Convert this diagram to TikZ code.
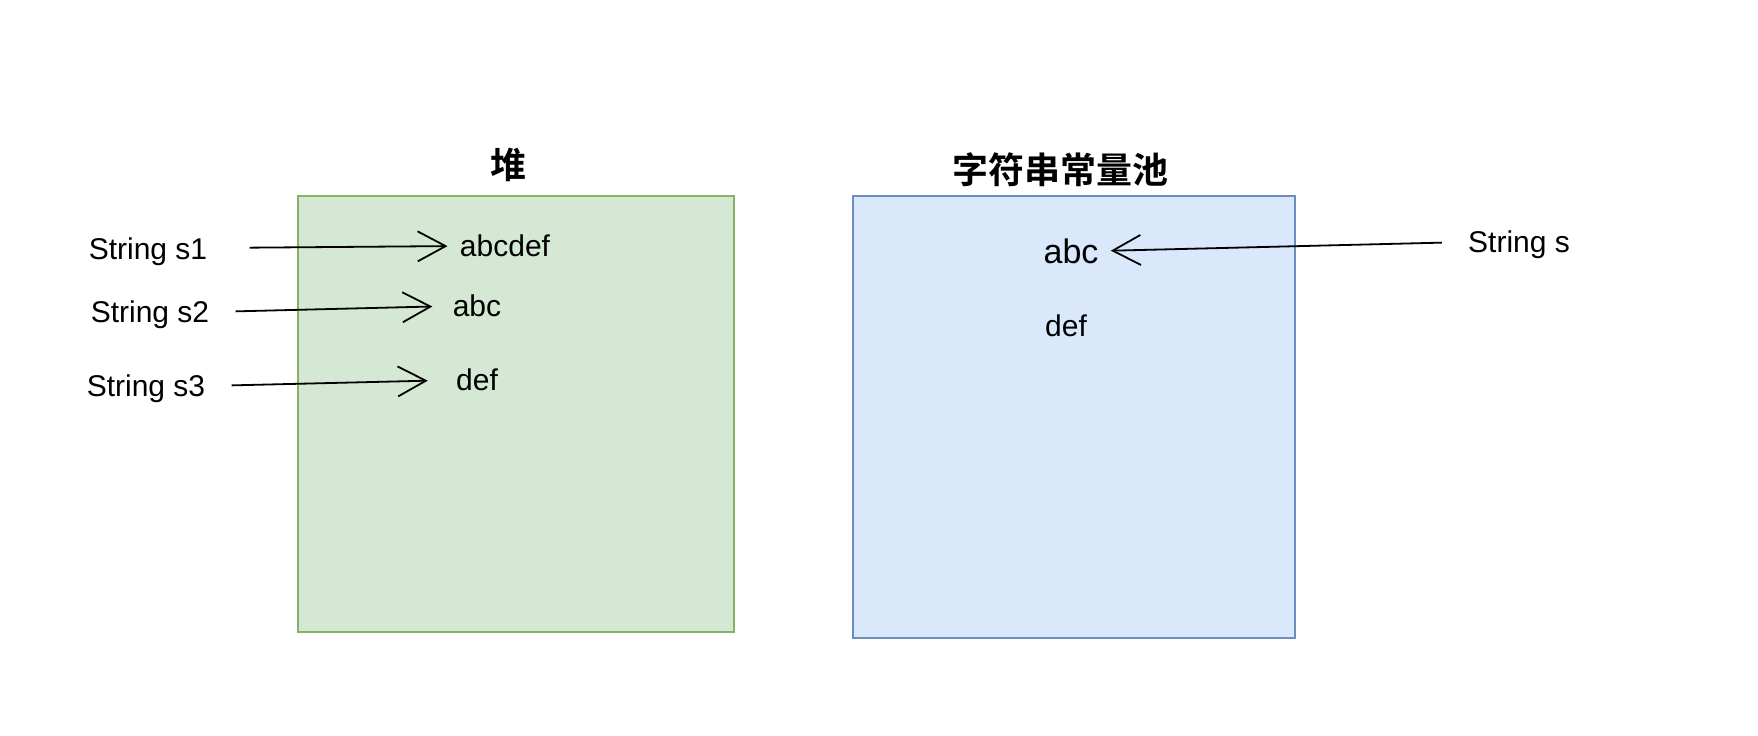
\documentclass[tikz,border=0pt]{standalone}
\usepackage{fontspec}
\setmainfont{Liberation Sans}
\newfontfamily\cjk{Noto Sans CJK SC}[BoldFont=Noto Sans CJK SC Bold]
\usepackage{xcolor}
\definecolor{heapgreen}{HTML}{82B366}
\definecolor{heapfill}{HTML}{D5E8D4}
\definecolor{poolblue}{HTML}{6C8EBF}
\definecolor{poolfill}{HTML}{DAE8FC}
\usetikzlibrary{arrows.meta,positioning}

\begin{document}
\begin{tikzpicture}[
        x=0.5pt, y=-0.5pt,
        heapbox/.style={rectangle, draw=heapgreen, fill=heapfill, line width=0.75pt, minimum width=218pt, minimum height=218pt},
        poolbox/.style={rectangle, draw=poolblue, fill=poolfill, line width=0.75pt, minimum width=221pt, minimum height=221pt},
        title/.style={font=\cjk\bfseries\fontsize{18}{20}\selectfont, inner sep=0pt},
        txt/.style={font=\fontsize{15}{18}\selectfont, inner sep=0pt},
        arrow/.style={-{Straight Barb[length=14pt, width=15pt, line width=0.9pt]}, line width=0.9pt}
    ]
        \useasboundingbox (0,0) rectangle (1758,735);

        \node[heapbox] (heap) at (516,414) {};
        \node[poolbox] (pool) at (1074,417) {};
        \node[title] (heaptitle) at (508,165) {堆};
        \node[title] (pooltitle) at (1060,170) {字符串常量池};

        \node[txt] (s1) at (148,252) {String s1};
        \node[txt] (s2) at (150,315) {String s2};
        \node[txt] (s3) at (146,389) {String s3};
        \node[txt] (abcdef) at (505,246) {abcdef};
        \node[txt] (abc) at (477,306) {abc};
        \node[txt] (def) at (477,380) {def};

        \node[txt, font=\fontsize{17}{20}\selectfont] (poolabc) at (1071,251) {abc};
        \node[txt] (pooldef) at (1066,326) {def};
        \node[txt] (s) at (1519,245) {String s};

        \draw[arrow, shorten <=21pt, shorten >=6pt] ([yshift=2pt]s1.east) -- (abcdef.west);
        \draw[arrow, shorten <=13pt, shorten >=10pt] ([yshift=1.5pt]s2.east) -- (abc.west);
        \draw[arrow, shorten <=13pt, shorten >=14pt] ([yshift=1.5pt]s3.east) -- (def.west);
        \draw[arrow, shorten <=13pt, shorten >=6pt] ([yshift=1.5pt]s.west) -- (poolabc.east);
    \end{tikzpicture}
\end{document}
